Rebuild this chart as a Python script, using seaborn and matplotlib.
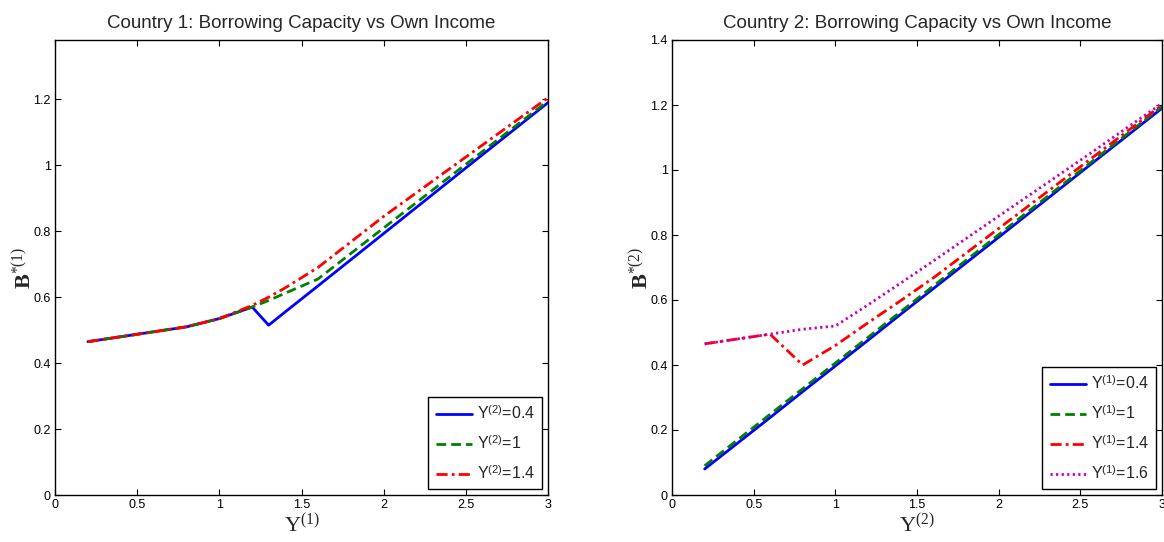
import numpy as np
import pandas as pd
import matplotlib
matplotlib.use("Agg")
import matplotlib.pyplot as plt
import seaborn as sns
from matplotlib.ticker import FormatStrFormatter

# Country 1: borrowing capacity against own income Y(1), for several Y(2)
y1_grid = [0.2, 0.4, 0.6, 0.8, 1.0, 1.2, 1.3, 1.4, 1.6, 2.0, 2.5, 3.0]
c1_y2_04 = [0.465, 0.480, 0.495, 0.510, 0.535, 0.570, 0.515, 0.555, 0.634, 0.793, 0.992, 1.190]
c1_y2_10 = [0.465, 0.480, 0.495, 0.510, 0.535, 0.570, 0.590, 0.612, 0.655, 0.810, 1.003, 1.195]
c1_y2_14 = [0.465, 0.480, 0.495, 0.510, 0.535, 0.575, 0.600, 0.628, 0.690, 0.845, 1.025, 1.205]
c1_labels = ["0.4", "1", "1.4"]

# Country 2: borrowing capacity against own income Y(2), for several Y(1)
y2_grid = [0.2, 0.4, 0.6, 0.8, 1.0, 1.2, 1.4, 1.6, 2.0, 2.5, 3.0]
c2_y1_04 = [0.080, 0.159, 0.238, 0.318, 0.397, 0.476, 0.556, 0.635, 0.793, 0.992, 1.190]
c2_y1_10 = [0.090, 0.169, 0.248, 0.327, 0.406, 0.485, 0.564, 0.643, 0.801, 0.998, 1.195]
c2_y1_14 = [0.465, 0.480, 0.495, 0.400, 0.460, 0.530, 0.598, 0.668, 0.820, 1.010, 1.200]
c2_y1_16 = [0.465, 0.480, 0.495, 0.510, 0.520, 0.585, 0.652, 0.720, 0.858, 1.030, 1.205]
c2_labels = ["0.4", "1", "1.4", "1.6"]

sns.set_theme(style="ticks")
plt.rcParams["font.family"] = ["Liberation Sans", "DejaVu Sans"]
plt.rcParams["mathtext.fontset"] = "custom"
plt.rcParams["mathtext.rm"] = "Liberation Serif"
plt.rcParams["mathtext.sf"] = "Liberation Sans"
plt.rcParams["mathtext.bf"] = "Liberation Serif:bold"
plt.rcParams["mathtext.default"] = "rm"

W, H = 1164, 542
fig = plt.figure(figsize=(W / 100, H / 100), dpi=100)
ax1 = fig.add_axes([55 / W, 1 - 495 / H, (548 - 55) / W, (495 - 40) / H])
ax2 = fig.add_axes([672 / W, 1 - 495 / H, (1162 - 672) / W, (495 - 40) / H])

styles = [
    dict(color="#0000ff", linestyle="-"),
    dict(color="#008000", linestyle=(0, (3.5, 1.8))),
    dict(color="#ff0000", linestyle=(0, (4.0, 1.5, 1.0, 1.5))),
    dict(color="#bf00bf", linestyle=(0, (0.8, 1.2))),
]


def legend_label(idx, val):
    return "Y$^{\\mathsf{(%d)}}$=%s" % (idx, val)


for vals, lab, st in zip([c1_y2_04, c1_y2_10, c1_y2_14], c1_labels, styles):
    df = pd.DataFrame({"x": y1_grid, "y": vals})
    sns.lineplot(data=df, x="x", y="y", ax=ax1, linewidth=2.0,
                 label=legend_label(2, lab), **st)

for vals, lab, st in zip([c2_y1_04, c2_y1_10, c2_y1_14, c2_y1_16], c2_labels, styles):
    df = pd.DataFrame({"x": y2_grid, "y": vals})
    sns.lineplot(data=df, x="x", y="y", ax=ax2, linewidth=2.0,
                 label=legend_label(1, lab), **st)

for ax, top, yt, idx, title in [
    (ax1, 1.38, np.arange(0, 1.21, 0.2), 1, "Country 1: Borrowing Capacity vs Own Income"),
    (ax2, 1.40, np.arange(0, 1.41, 0.2), 2, "Country 2: Borrowing Capacity vs Own Income"),
]:
    ax.set_xlim(0, 3)
    ax.set_ylim(0, top)
    ax.set_xticks(np.arange(0, 3.01, 0.5))
    ax.set_yticks(yt)
    ax.xaxis.set_major_formatter(FormatStrFormatter("%g"))
    ax.yaxis.set_major_formatter(FormatStrFormatter("%g"))
    ax.tick_params(direction="in", length=4, width=0.8, labelsize=9,
                   top=True, right=True, pad=3, colors="black")
    for s in ax.spines.values():
        s.set_visible(True)
        s.set_linewidth(1.0)
        s.set_color("black")
    ax.set_title(title, fontsize=13.5, pad=9)
    ax.set_xlabel("$\\mathrm{Y}^{(%d)}$" % idx, fontsize=16, labelpad=2)
    ax.set_ylabel("$\\mathbf{B}^{*(%d)}$" % idx, fontsize=16, labelpad=-2)
    leg = ax.legend(loc="lower right", fontsize=11.5, frameon=True, fancybox=False,
                    edgecolor="black", framealpha=1, borderaxespad=0.35,
                    handlelength=2.3, handletextpad=0.3, labelspacing=0.75,
                    borderpad=0.45)
    leg.get_frame().set_linewidth(1.0)

fig.savefig("out.png", dpi=100)
